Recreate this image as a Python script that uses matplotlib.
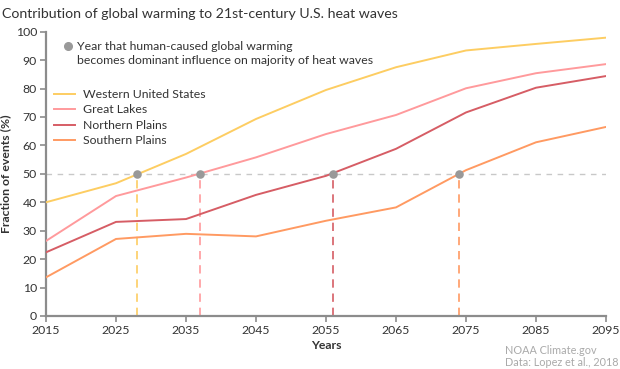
import matplotlib
matplotlib.use("Agg")
import matplotlib.pyplot as plt

plt.rcParams['font.family'] = ['Lato', 'DejaVu Sans']

years = [2015, 2025, 2035, 2045, 2055, 2065, 2075, 2085, 2095]
western = [40.0, 46.7, 57.0, 69.3, 79.5, 87.5, 93.4, 95.7, 97.9]
great_lakes = [26.4, 42.2, 48.7, 55.8, 64.0, 70.7, 80.1, 85.4, 88.6]
northern = [22.4, 33.1, 34.1, 42.6, 49.3, 58.8, 71.6, 80.3, 84.4]
southern = [13.6, 27.1, 28.9, 28.0, 33.5, 38.2, 51.3, 61.1, 66.5]

series_names = ["Western United States", "Great Lakes", "Northern Plains", "Southern Plains"]
series_values = [western, great_lakes, northern, southern]
series_colors = ["#fdcd62", "#ff9a9c", "#d65d65", "#ff9a62"]

cross_years = [2028, 2037, 2056, 2074]
threshold = 50

xticks = [2015, 2025, 2035, 2045, 2055, 2065, 2075, 2085, 2095]
yticks = [0, 10, 20, 30, 40, 50, 60, 70, 80, 90, 100]

W, H = 620, 369
fig = plt.figure(figsize=(W / 100, H / 100), dpi=100)
ax = fig.add_axes([46 / W, 1 - 316 / H, (606 - 46) / W, (316 - 31.7) / H])

axis_gray = "#8c8c8c"
text_gray = "#333333"

# threshold line
ax.axhline(threshold, color="#c8c8c8", lw=1.0, ls=(0, (4, 4)), zorder=1)

for name, vals, col in zip(series_names, series_values, series_colors):
    ax.plot(years, vals, color=col, lw=1.4, label=name, zorder=3, solid_joinstyle='miter')

for yr, col in zip(cross_years, series_colors):
    ax.vlines(yr, 0, threshold, colors=col, lw=1.2, linestyles=(0, (5, 3.5)), zorder=2)

ax.scatter(cross_years, [threshold] * len(cross_years), s=38, color="#999999", zorder=5, linewidths=0)

ax.set_xlim(2015, 2095)
ax.set_ylim(0, 100)
ax.set_xticks(xticks)
ax.set_yticks(yticks)
for s in ["top", "right"]:
    ax.spines[s].set_visible(False)
for s in ["left", "bottom"]:
    ax.spines[s].set_color(axis_gray)
    ax.spines[s].set_linewidth(1.6)
ax.tick_params(axis="both", colors=axis_gray, length=4, width=1.2, labelsize=8.8,
               labelcolor=text_gray, pad=2.5)

ax.set_xlabel("Years", fontsize=8.8, fontweight="bold", color=text_gray, labelpad=3)
ax.set_ylabel("Fraction of events (%)", fontsize=8.8, fontweight="bold", color=text_gray, labelpad=3)

leg = ax.legend(loc="upper left", bbox_to_anchor=(8 / 560, (316 - 89) / 284.3), frameon=False,
                fontsize=8.8, handlelength=1.7, handletextpad=0.7, labelspacing=0.36,
                borderpad=0, borderaxespad=0)
for t in leg.get_texts():
    t.set_color(text_gray)

# key for dots
ax.plot([(68 - 46) / 560], [(316 - 46) / 284.3], transform=ax.transAxes, marker="o",
        ms=5.5, color="#999999", clip_on=False, lw=0)
ax.text((77 - 46) / 560, (316 - 46) / 284.3, "Year that human-caused global warming",
        transform=ax.transAxes, fontsize=8.8, color=text_gray, va="center", ha="left")
ax.text((77 - 46) / 560, (316 - 60) / 284.3, "becomes dominant influence on majority of heat waves",
        transform=ax.transAxes, fontsize=8.8, color=text_gray, va="center", ha="left")

fig.text(2 / W, 1 - 13.5 / H, "Contribution of global warming to 21st-century U.S. heat waves",
         fontsize=10.2, color=text_gray, va="center", ha="left")
fig.text(505 / W, 1 - 351 / H, "NOAA Climate.gov", fontsize=7.8, color="#aaaaaa", va="center", ha="left")
fig.text(505 / W, 1 - 363 / H, "Data: Lopez et al., 2018", fontsize=7.8, color="#aaaaaa", va="center", ha="left")

fig.savefig("out.png", dpi=100)
